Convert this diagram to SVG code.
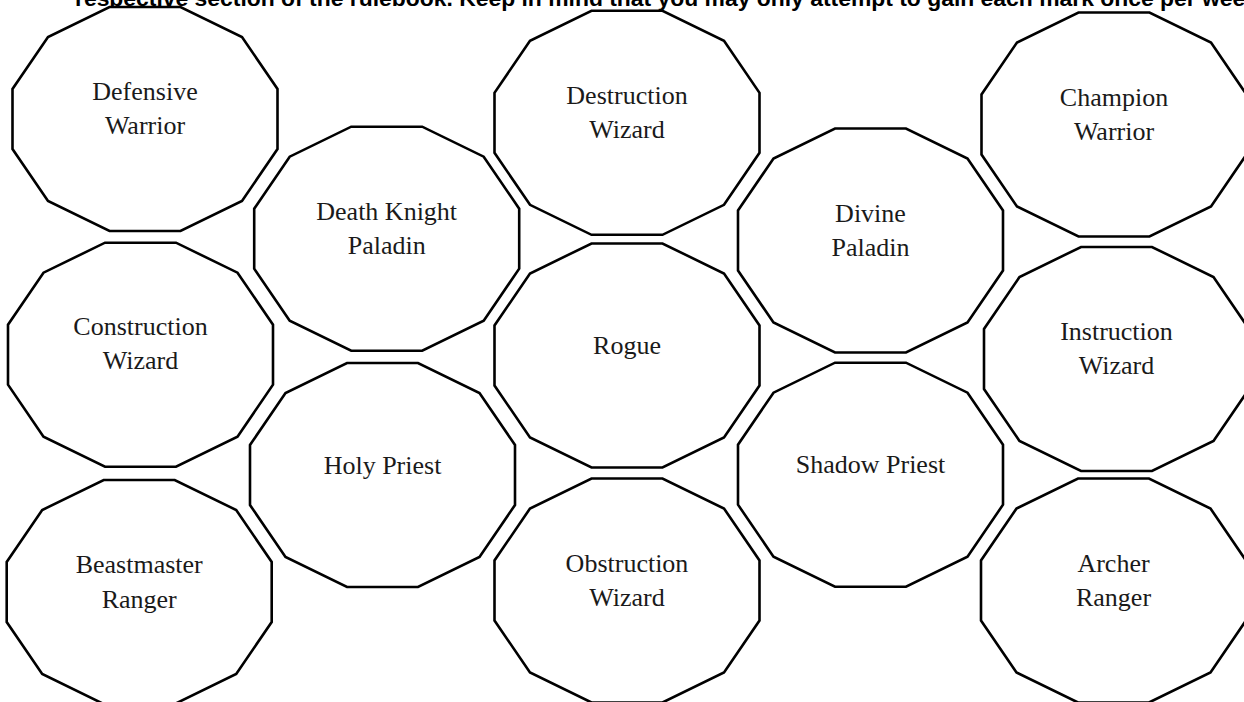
<svg xmlns="http://www.w3.org/2000/svg" xmlns:xlink="http://www.w3.org/1999/xlink" width="1244" height="702" viewBox="0 0 1244 702">
<style>
.shape{fill:#ffffff;stroke:#000000;stroke-width:2.6;stroke-linejoin:miter}
.lbl{font-family:"Liberation Serif","Times New Roman",serif;font-size:26px;fill:#1a1a1a;text-anchor:middle}
.top{font-family:"Liberation Sans",Arial,sans-serif;font-size:22.9px;font-weight:bold;fill:#000000}
</style>
<defs>
<polygon id="dodec" points="-35.5,-112 35.5,-112 97,-82 132.5,-30 132.5,30 97,82 35.5,112 -35.5,112 -97,82 -132.5,30 -132.5,-30 -97,-82"/>
</defs>
<rect width="1244" height="702" fill="#ffffff"/>
<text class="top" x="75" y="5.5">respective section of the rulebook. Keep in mind that you may only attempt to gain each mark once per week.</text>
<g id="connectors"/>
<g id="defensive-warrior"><use xlink:href="#dodec" href="#dodec" class="shape" x="145" y="119"/><text class="lbl" x="145" y="100">Defensive</text><text class="lbl" x="145" y="134">Warrior</text></g>
<g id="death-knight-paladin"><use xlink:href="#dodec" href="#dodec" class="shape" x="386.7" y="238.7"/><text class="lbl" x="386.7" y="220">Death Knight</text><text class="lbl" x="386.7" y="254">Paladin</text></g>
<g id="destruction-wizard"><use xlink:href="#dodec" href="#dodec" class="shape" x="627" y="122.8"/><text class="lbl" x="627" y="103.5">Destruction</text><text class="lbl" x="627" y="137.5">Wizard</text></g>
<g id="champion-warrior"><use xlink:href="#dodec" href="#dodec" class="shape" x="1114" y="124.5"/><text class="lbl" x="1114" y="106">Champion</text><text class="lbl" x="1114" y="139.5">Warrior</text></g>
<g id="construction-wizard"><use xlink:href="#dodec" href="#dodec" class="shape" x="140.5" y="354.7"/><text class="lbl" x="140.5" y="335">Construction</text><text class="lbl" x="140.5" y="369">Wizard</text></g>
<g id="rogue"><use xlink:href="#dodec" href="#dodec" class="shape" x="627" y="355.5"/><text class="lbl" x="627" y="354">Rogue</text></g>
<g id="divine-paladin"><use xlink:href="#dodec" href="#dodec" class="shape" x="870.5" y="240.5"/><text class="lbl" x="870.5" y="221.7">Divine</text><text class="lbl" x="870.5" y="255.7">Paladin</text></g>
<g id="instruction-wizard"><use xlink:href="#dodec" href="#dodec" class="shape" x="1116.5" y="359"/><text class="lbl" x="1116.5" y="340">Instruction</text><text class="lbl" x="1116.5" y="374">Wizard</text></g>
<g id="holy-priest"><use xlink:href="#dodec" href="#dodec" class="shape" x="382.5" y="475"/><text class="lbl" x="382.5" y="473.5">Holy Priest</text></g>
<g id="shadow-priest"><use xlink:href="#dodec" href="#dodec" class="shape" x="870.5" y="474.7"/><text class="lbl" x="870.5" y="473.3">Shadow Priest</text></g>
<g id="beastmaster-ranger"><use xlink:href="#dodec" href="#dodec" class="shape" x="139.2" y="592"/><text class="lbl" x="139.2" y="572.7">Beastmaster</text><text class="lbl" x="139.2" y="607.7">Ranger</text></g>
<g id="obstruction-wizard"><use xlink:href="#dodec" href="#dodec" class="shape" x="627" y="590.5"/><text class="lbl" x="627" y="571.5">Obstruction</text><text class="lbl" x="627" y="605.5">Wizard</text></g>
<g id="archer-ranger"><use xlink:href="#dodec" href="#dodec" class="shape" x="1113.5" y="590.5"/><text class="lbl" x="1113.5" y="571.5">Archer</text><text class="lbl" x="1113.5" y="605.5">Ranger</text></g>
</svg>
